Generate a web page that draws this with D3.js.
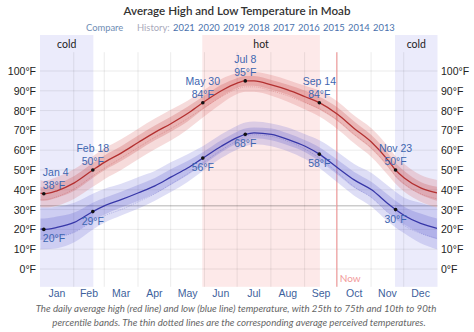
<!DOCTYPE html>
<html>
<head>
<meta charset="utf-8">
<script src="https://cdn.jsdelivr.net/npm/d3@7"></script>
<style>
  body { margin: 0; background: #fff; }
  svg { display: block; }
</style>
</head>
<body>
<div class="chart"></div>
<script>
// sample days (day of year, 0 = Jan 1) and the daily averages on those days
const days     = [0, 3, 15, 31, 48, 59, 74, 90, 105, 120, 135, 149, 166, 181, 188, 196, 212, 227, 243, 256, 273, 288, 304, 319, 326, 334, 349, 364];
const high     = [38.3, 38, 39.5, 43.5, 50, 54, 58.5, 64, 69, 73.5, 78.5, 84, 90, 94, 95, 95, 93, 90.5, 87, 84, 78, 71, 64, 55, 50, 46, 41, 38.4];
const highP10  = [31, 31, 32, 35.5, 41.5, 45.5, 50, 55.5, 60.5, 65, 70.5, 76.5, 83.5, 88.5, 89.5, 89.5, 87.5, 84.5, 80.5, 77, 70.5, 63.5, 56.5, 47.5, 43, 39, 34, 31];
const highP25  = [34.5, 34.5, 36, 39.5, 46, 50, 54.5, 60, 65, 69.5, 74.5, 80.5, 87, 91.5, 92.5, 92.5, 90.5, 88, 84, 80.5, 74.5, 67.5, 60.5, 51.5, 46.5, 42.5, 37.5, 34.5];
const highP75  = [41.5, 41, 43, 47, 53.5, 57.5, 62, 67.5, 72.5, 77, 82, 87, 93, 96.5, 97.5, 97.5, 95.5, 93, 90, 87, 81.5, 74.5, 67.5, 58.5, 53.5, 49.5, 44, 41.5];
const highP90  = [45, 44.5, 46.5, 50.5, 57, 61, 65.5, 71, 76, 80.5, 85, 90, 96, 99, 99.5, 99.5, 98, 95.5, 92.5, 90, 84.5, 77.5, 71, 62, 57, 53, 47.5, 45];
const highFeel = [35, 35, 36.5, 40.5, 47, 51, 56, 61.5, 66.5, 71, 76, 81, 87, 91, 92, 92, 90, 87.5, 84, 81, 75, 68, 61, 52, 47, 43, 38, 35.5];
const low      = [20.2, 20, 21, 23.5, 29, 32, 35, 38.5, 42, 46.5, 51, 56, 62, 66.5, 68, 68.8, 68, 65.5, 62, 58, 51, 45, 40, 33, 30, 27, 23, 20.5];
const lowP10   = [10, 10, 10.5, 13.5, 20, 23.5, 27, 30.5, 34.5, 39, 44, 49.5, 56, 60.5, 62, 63, 62, 59.5, 55.5, 51, 43.5, 37, 31.5, 24, 21, 18, 13, 10];
const lowP25   = [15, 15, 16, 18.5, 24.5, 27.5, 31, 34.5, 38, 42.5, 47.5, 52.5, 59, 63.5, 65, 66, 65, 62.5, 59, 54.5, 47.5, 41, 36, 28.5, 25.5, 22.5, 18, 15];
const lowP75   = [25.5, 25.5, 26.5, 28.5, 33.5, 36, 39, 42.5, 46, 50.5, 54.5, 59, 65, 69.5, 71, 71.5, 71, 68.5, 65, 61.5, 55, 49, 44, 37.5, 34.5, 31.5, 28, 25.5];
const lowP90   = [31, 31, 31.5, 33.5, 38, 40.5, 43, 46.5, 49.5, 54, 58, 62, 68, 72.5, 74, 74.5, 73.5, 71.5, 68, 65, 59, 53, 48.5, 42, 39, 36, 33.5, 31];
const lowFeel  = [15, 15, 16, 18.5, 24, 27, 30, 34, 38, 43, 48, 53.5, 60, 65, 67, 67.8, 67, 64.5, 60.5, 56, 48.5, 41.5, 36, 28.5, 25.5, 22, 18, 15.5];

const monthNames  = ['Jan', 'Feb', 'Mar', 'Apr', 'May', 'Jun', 'Jul', 'Aug', 'Sep', 'Oct', 'Nov', 'Dec'];
const monthStarts = [0, 31, 59, 90, 120, 151, 181, 212, 243, 273, 304, 334, 365];
const tempTicks   = [0, 10, 20, 30, 40, 50, 60, 70, 80, 90, 100];

const seasonNames = ['cold', 'hot', 'cold'];
const seasonStart = [0, 149, 326];
const seasonEnd   = [49, 257, 365];

// labelled days: [day, label, temperature]
const highMarks = [[3, 'Jan 4', 38], [48, 'Feb 18', 50], [149, 'May 30', 84], [188, 'Jul 8', 95], [256, 'Sep 14', 84], [326, 'Nov 23', 50]];
const lowMarks  = [[3, 20], [48, 29], [149, 56], [188, 68], [256, 58], [326, 30]];

const nowDay = 272.5;
const historyYears = [2021, 2020, 2019, 2018, 2017, 2016, 2015, 2014, 2013];

const W = 474, H = 332;
const svg = d3.select('.chart')
  .append('svg')
    .attr('width', W)
    .attr('height', H)
    .style('font-family', '"Segoe UI", Lato, "Open Sans", sans-serif');

const x = d3.scaleLinear().domain([0, 365]).range([40, 437.5]);
const y = d3.scaleLinear().domain([0, 100]).range([269, 71]);
const yLow = -9, yHigh = 109.5;   // extent of the grid
const bandTop = 35;

// title + history links
svg.append('text')
  .attr('x', W / 2).attr('y', 15)
  .attr('text-anchor', 'middle')
  .style('font-size', '11.6px').style('font-weight', 600)
  .style('fill', '#333')
  .text('Average High and Low Temperature in Moab');

const sub = svg.append('g').style('font-size', '9.4px');
sub.append('text').attr('x', 86).attr('y', 31).style('fill', '#6f8db5').text('Compare');
sub.append('text').attr('x', 137).attr('y', 31).style('fill', '#aab').text('History:');
sub.selectAll('.yr')
  .data(historyYears)
  .enter()
  .append('text')
    .attr('class', 'yr')
    .attr('x', (d, i) => 173 + i * 25)
    .attr('y', 31)
    .style('fill', '#4a72ad')
    .text(d => d);

// seasons
const seasons = svg.append('g');
seasons.selectAll('rect')
  .data(seasonNames)
  .enter()
  .append('rect')
    .attr('x', (d, i) => x(seasonStart[i]))
    .attr('y', bandTop)
    .attr('width', (d, i) => x(seasonEnd[i]) - x(seasonStart[i]))
    .attr('height', y(yLow) - bandTop)
    .attr('fill', d => d === 'hot' ? '#fde9e9' : '#ebebfb');
seasons.selectAll('text')
  .data(seasonNames)
  .enter()
  .append('text')
    .attr('x', (d, i) => (x(seasonStart[i]) + x(seasonEnd[i])) / 2)
    .attr('y', 48)
    .attr('text-anchor', 'middle')
    .style('font-size', '10.5px')
    .style('fill', '#222')
    .text(d => d);

// grid
const grid = svg.append('g');
grid.selectAll('.h')
  .data(tempTicks)
  .enter()
  .append('line')
    .attr('x1', x(0)).attr('x2', x(365))
    .attr('y1', d => y(d)).attr('y2', d => y(d))
    .style('stroke', 'rgba(0,0,0,0.08)');
grid.selectAll('.v')
  .data(monthStarts.slice(1, 12))
  .enter()
  .append('line')
    .attr('x1', d => x(d)).attr('x2', d => x(d))
    .attr('y1', y(yHigh)).attr('y2', y(yLow))
    .style('stroke', 'rgba(0,0,0,0.08)');
// freezing
grid.append('line')
  .attr('x1', x(0)).attr('x2', x(365))
  .attr('y1', y(32)).attr('y2', y(32))
  .style('stroke', 'rgba(0,0,0,0.2)')
  .style('stroke-width', 1.5);

// now
grid.append('line')
  .attr('x1', x(nowDay)).attr('x2', x(nowDay))
  .attr('y1', y(yHigh)).attr('y2', y(yLow))
  .style('stroke', '#f0a0a0')
  .style('stroke-width', 1.2);
grid.append('text')
  .attr('x', x(nowDay) + 3).attr('y', 282)
  .style('font-size', '10px')
  .style('fill', '#f29a9a')
  .text('Now');

// percentile bands and lines
const area = (lo, hi) => d3.area()
  .x((d, i) => x(days[i] + 0.5))
  .y0((d, i) => y(lo[i]))
  .y1((d, i) => y(hi[i]))
  .curve(d3.curveMonotoneX)(days);
const line = (vals) => d3.line()
  .x((d, i) => x(days[i] + 0.5))
  .y((d, i) => y(vals[i]))
  .curve(d3.curveMonotoneX)(days);

const marks = svg.append('g');
marks.append('path').attr('d', area(highP10, highP90)).style('fill', 'rgba(214,90,90,0.22)');
marks.append('path').attr('d', area(highP25, highP75)).style('fill', 'rgba(200,70,70,0.25)');
marks.append('path').attr('d', area(lowP10, lowP90)).style('fill', 'rgba(90,90,210,0.2)');
marks.append('path').attr('d', area(lowP25, lowP75)).style('fill', 'rgba(80,80,200,0.22)');

marks.append('path').attr('d', line(highFeel))
  .style('fill', 'none').style('stroke', 'rgba(190,60,60,0.35)')
  .style('stroke-width', 0.8).style('stroke-dasharray', '1,1');
marks.append('path').attr('d', line(lowFeel))
  .style('fill', 'none').style('stroke', 'rgba(70,70,190,0.35)')
  .style('stroke-width', 0.8).style('stroke-dasharray', '1,1');

marks.append('path').attr('d', line(high))
  .style('fill', 'none').style('stroke', '#b33030').style('stroke-width', 1.3);
marks.append('path').attr('d', line(low))
  .style('fill', 'none').style('stroke', '#3737a8').style('stroke-width', 1.3);

// axes labels
const axisText = svg.append('g')
  .style('font-family', '"Liberation Sans", Arial, sans-serif')
  .style('font-size', '10.5px')
  .style('fill', '#222');
axisText.selectAll('.l')
  .data(tempTicks)
  .enter()
  .append('text')
    .attr('x', 36).attr('y', d => y(d) + 4)
    .attr('text-anchor', 'end')
    .text(d => `${d}°F`);
axisText.selectAll('.r')
  .data(tempTicks)
  .enter()
  .append('text')
    .attr('x', 441).attr('y', d => y(d) + 4)
    .text(d => `${d}°F`);
axisText.selectAll('.m')
  .data(monthNames)
  .enter()
  .append('text')
    .attr('x', (d, i) => x((monthStarts[i] + monthStarts[i + 1]) / 2))
    .attr('y', 297)
    .attr('text-anchor', 'middle')
    .style('fill', '#3d5f9c')
    .text(d => d);

// labelled days
const notes = svg.append('g')
  .style('font-family', '"Liberation Sans", Arial, sans-serif')
  .style('font-size', '10.5px')
  .style('fill', '#3d66b0');

highMarks.forEach(([d, label, t]) => {
  const px = x(d + 0.5), py = y(t);
  const anchor = d < 10 ? 'start' : 'middle';
  const tx = d < 10 ? px - 1 : px;
  notes.append('text').attr('x', tx).attr('y', py - 18).attr('text-anchor', anchor).text(label);
  notes.append('text').attr('x', tx).attr('y', py - 5).attr('text-anchor', anchor).text(`${t}°F`);
  marks.append('circle').attr('cx', px).attr('cy', py).attr('r', 1.8).style('fill', '#111');
});
lowMarks.forEach(([d, t]) => {
  const px = x(d + 0.5), py = y(t);
  const anchor = d < 10 ? 'start' : 'middle';
  notes.append('text').attr('x', d < 10 ? px - 1 : px).attr('y', py + 13).attr('text-anchor', anchor).text(`${t}°F`);
  marks.append('circle').attr('cx', px).attr('cy', py).attr('r', 1.8).style('fill', '#111');
});

// caption
const caption = svg.append('g')
  .attr('text-anchor', 'middle')
  .style('font-size', '9.7px')
  .style('font-style', 'italic')
  .style('fill', '#666');
caption.append('text').attr('x', W / 2 - 1).attr('y', 312)
  .text('The daily average high (red line) and low (blue line) temperature, with 25th to 75th and 10th to 90th');
caption.append('text').attr('x', W / 2 + 2).attr('y', 326)
  .text('percentile bands. The thin dotted lines are the corresponding average perceived temperatures.');
</script>
</body>
</html>
